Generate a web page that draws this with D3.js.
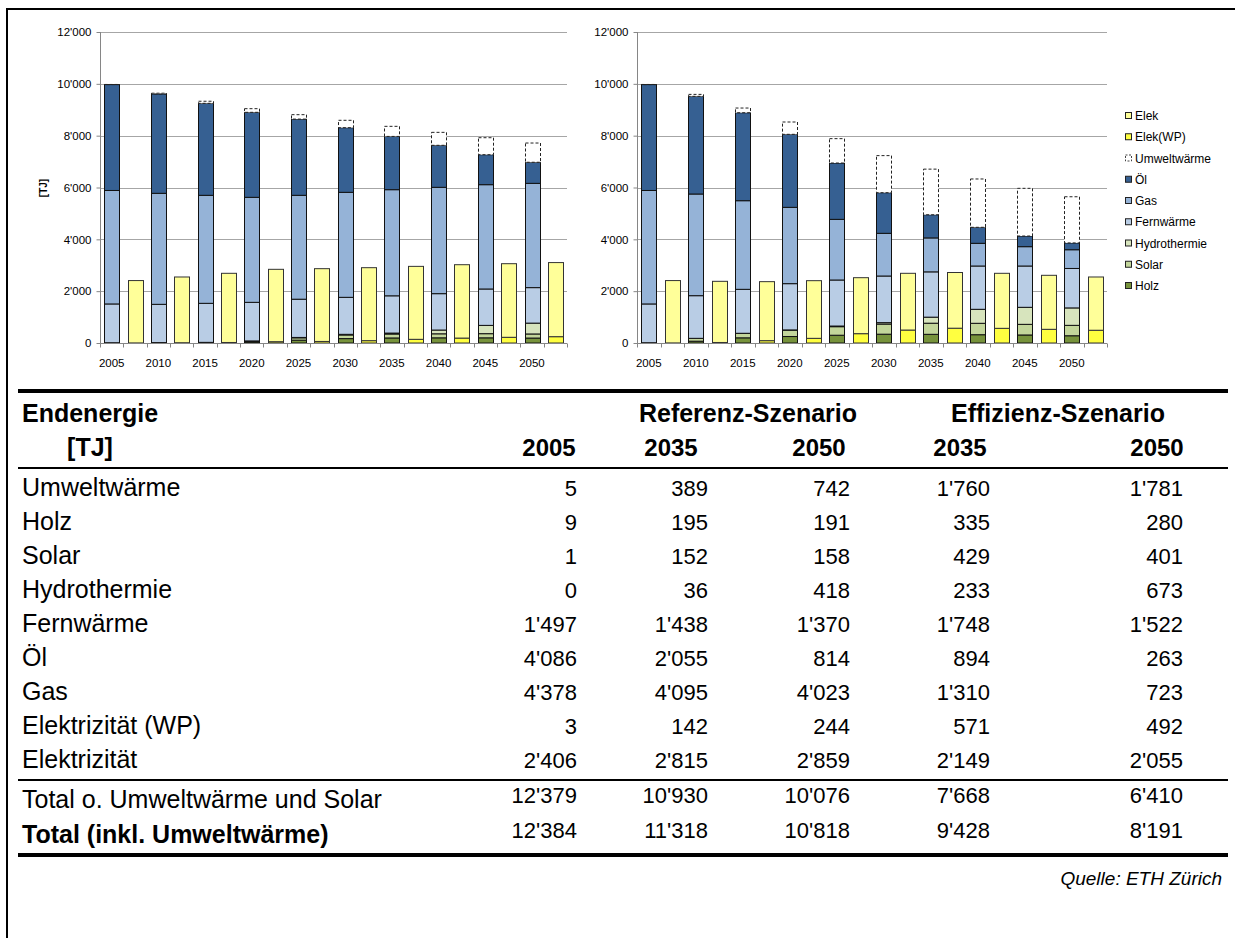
<!DOCTYPE html>
<html>
<head>
<meta charset="utf-8">
<script src="https://cdn.jsdelivr.net/npm/d3@7"></script>
<style>
  body { margin: 0; background: #fff; }
  text { font-family: "Liberation Sans", Arial, sans-serif; }
</style>
</head>
<body>
<svg id="chart"></svg>
<script>
var WIDTH = 1235;
var HEIGHT = 938;

// years on the x axis (each year has a heat bar and an electricity bar)
var years = [2005, 2010, 2015, 2020, 2025, 2030, 2035, 2040, 2045, 2050];

// stacking order bottom -> top
var keys = ['Holz', 'Solar', 'Hydrothermie', 'Fernwärme', 'Gas', 'Öl', 'Umweltwärme', 'Elek(WP)', 'Elek'];
var heatKeys = ['Holz', 'Solar', 'Hydrothermie', 'Fernwärme', 'Gas', 'Öl', 'Umweltwärme'];
var elecKeys = ['Elek(WP)', 'Elek'];
var legendKeys = ['Elek', 'Elek(WP)', 'Umweltwärme', 'Öl', 'Gas', 'Fernwärme', 'Hydrothermie', 'Solar', 'Holz'];

// Referenz-Szenario [TJ]
var refHolz  = [9, 10, 15, 45, 110, 170, 195, 200, 200, 191];
var refSolar = [1, 5, 10, 30, 90, 140, 152, 155, 160, 158];
var refHydro = [0, 0, 0, 5, 15, 25, 36, 145, 320, 418];
var refFern  = [1497, 1477, 1506, 1489, 1475, 1427, 1438, 1404, 1404, 1370];
var refGas   = [4378, 4283, 4167, 4052, 4008, 4052, 4095, 4103, 4025, 4023];
var refOel   = [4086, 3833, 3550, 3280, 2942, 2494, 2055, 1621, 1157, 814];
var refUmw   = [5, 30, 80, 140, 170, 285, 389, 500, 655, 742];
var refWP    = [3, 10, 20, 50, 60, 90, 142, 190, 220, 244];
var refElek  = [2406, 2537, 2669, 2793, 2808, 2816, 2815, 2831, 2840, 2859];

// Effizienz-Szenario [TJ]
var effHolz  = [9, 70, 200, 250, 300, 340, 335, 320, 310, 280];
var effSolar = [1, 110, 170, 245, 330, 390, 429, 440, 410, 401];
var effHydro = [0, 0, 5, 10, 25, 55, 233, 540, 657, 673];
var effFern  = [1497, 1646, 1696, 1785, 1776, 1800, 1748, 1671, 1594, 1522];
var effGas   = [4378, 3923, 3420, 2944, 2340, 1647, 1310, 875, 746, 723];
var effOel   = [4086, 3769, 3395, 2818, 2174, 1568, 894, 618, 411, 263];
var effUmw   = [5, 75, 180, 475, 940, 1430, 1760, 1865, 1840, 1781];
var effWP    = [3, 20, 90, 180, 360, 500, 571, 566, 528, 492];
var effElek  = [2406, 2360, 2277, 2225, 2160, 2189, 2149, 2123, 2084, 2055];

var yTicks = [0, 2000, 4000, 6000, 8000, 10000, 12000];

// table
var tableRows = ['Umweltwärme', 'Holz', 'Solar', 'Hydrothermie', 'Fernwärme', 'Öl', 'Gas', 'Elektrizität (WP)', 'Elektrizität'];
var tab2005    = [5, 9, 1, 0, 1497, 4086, 4378, 3, 2406];
var tabRef2035 = [389, 195, 152, 36, 1438, 2055, 4095, 142, 2815];
var tabRef2050 = [742, 191, 158, 418, 1370, 814, 4023, 244, 2859];
var tabEff2035 = [1760, 335, 429, 233, 1748, 894, 1310, 571, 2149];
var tabEff2050 = [1781, 280, 401, 673, 1522, 263, 723, 492, 2055];
var totalLabels = ['Total o. Umweltwärme und Solar', 'Total (inkl. Umweltwärme)'];
var totals = [[12379, 10930, 10076, 7668, 6410], [12384, 11318, 10818, 9428, 8191]];
var tableYears = ['2005', '2035', '2050', '2035', '2050'];

var colors = {
  'Holz': '#77933c',
  'Solar': '#c3d69b',
  'Hydrothermie': '#d7e4bd',
  'Fernwärme': '#b9cde5',
  'Gas': '#95b3d7',
  'Öl': '#366092',
  'Umweltwärme': '#ffffff',
  'Elek(WP)': '#ffff40',
  'Elek': '#ffff99'
};

var svg = d3.select('#chart')
  .attr('width', WIDTH)
  .attr('height', HEIGHT);

svg.append('rect').attr('width', WIDTH).attr('height', HEIGHT).attr('fill', '#fff');

// outer frame (top + left)
svg.append('line').attr('x1', 7).attr('x2', WIDTH).attr('y1', 9).attr('y2', 9)
  .attr('stroke', '#000').attr('stroke-width', 2);
svg.append('line').attr('x1', 7).attr('x2', 7).attr('y1', 8).attr('y2', HEIGHT)
  .attr('stroke', '#000').attr('stroke-width', 2);

var fmt = function(v){
  return d3.format(',')(v).replace(/,/g, "'");
};

var yScale = d3.scaleLinear().domain([0, 12000]).range([343, 32]);

var buildRows = function(s){
  var rows = [];
  years.forEach(function(yr, i){
    var h = { cat: yr + 'h', year: yr, heat: true };
    var e = { cat: yr + 'e', year: yr, heat: false };
    var vals = {
      'Holz': s.holz[i], 'Solar': s.solar[i], 'Hydrothermie': s.hydro[i],
      'Fernwärme': s.fern[i], 'Gas': s.gas[i], 'Öl': s.oel[i], 'Umweltwärme': s.umw[i],
      'Elek(WP)': s.wp[i], 'Elek': s.elek[i]
    };
    keys.forEach(function(k){
      h[k] = heatKeys.indexOf(k) >= 0 ? vals[k] : 0;
      e[k] = elecKeys.indexOf(k) >= 0 ? vals[k] : 0;
    });
    rows.push(h);
    rows.push(e);
  });
  return rows;
};

var drawChart = function(x0, x1, rows, yLabel){
  var g = svg.append('g');
  var xScale = d3.scaleBand()
    .domain(rows.map(function(d){ return d.cat; }))
    .range([x0, x1])
    .paddingInner(0.36)
    .paddingOuter(0.18);
  var step = xScale.step();

  // gridlines
  g.selectAll('.grid').data(yTicks.slice(1)).enter().append('line')
    .attr('x1', x0).attr('x2', x1)
    .attr('y1', function(d){ return Math.round(yScale(d)) + 0.5; })
    .attr('y2', function(d){ return Math.round(yScale(d)) + 0.5; })
    .attr('stroke', '#a6a6a6').attr('stroke-width', 1);

  // y axis
  var leftAxis = d3.axisLeft(yScale).tickValues(yTicks).tickSize(4).tickPadding(5)
    .tickFormat(fmt);
  var ya = g.append('g').attr('transform', 'translate(' + (x0 + 0.5) + ',0)').call(leftAxis);
  ya.select('.domain').attr('stroke', '#868686').attr('d', 'M0,' + yScale(12000) + 'V' + yScale(0));
  ya.selectAll('.tick line').attr('stroke', '#868686');
  ya.selectAll('text').attr('font-size', 11.5).attr('fill', '#000')
    .style('font-family', '"Liberation Sans", Arial, sans-serif');

  // bars
  var stack = d3.stack().keys(keys);
  var layers = stack(rows);
  layers.forEach(function(layer){
    var k = layer.key;
    g.selectAll(null).data(layer.filter(function(d){ return d[1] - d[0] > 0; }))
      .enter().append('rect')
      .attr('x', function(d){ return Math.round(xScale(d.data.cat)) + 0.5; })
      .attr('width', Math.round(xScale.bandwidth()))
      .attr('y', function(d){ return yScale(d[1]); })
      .attr('height', function(d){ return yScale(d[0]) - yScale(d[1]); })
      .attr('fill', colors[k])
      .attr('stroke', k === 'Umweltwärme' ? '#222' : (k === 'Elek' || k === 'Elek(WP)' ? '#333' : '#111'))
      .attr('stroke-width', 1)
      .attr('stroke-dasharray', k === 'Umweltwärme' ? '3,2' : null);
  });

  // x axis
  var xa = g.append('g').attr('transform', 'translate(0,' + (yScale(0) + 0.5) + ')');
  xa.append('line').attr('x1', x0).attr('x2', x1).attr('stroke', '#868686');
  xa.selectAll('.xt').data(d3.range(rows.length + 1)).enter().append('line')
    .attr('x1', function(i){ return Math.round(x0 + i * step) + 0.5; })
    .attr('x2', function(i){ return Math.round(x0 + i * step) + 0.5; })
    .attr('y1', 0).attr('y2', 4)
    .attr('stroke', '#868686');
  xa.selectAll('.xl').data(rows.filter(function(d){ return d.heat; })).enter().append('text')
    .attr('x', function(d){ return xScale(d.cat) + xScale.bandwidth() / 2; })
    .attr('y', 23)
    .attr('text-anchor', 'middle')
    .attr('font-size', 11.5)
    .text(function(d){ return d.year; });

  if (yLabel) {
    g.append('text')
      .attr('transform', 'translate(47,188) rotate(-90)')
      .attr('text-anchor', 'middle')
      .attr('font-size', 10)
      .attr('font-weight', 'bold')
      .text(yLabel);
  }
};

var refRows = buildRows({ holz: refHolz, solar: refSolar, hydro: refHydro, fern: refFern, gas: refGas,
  oel: refOel, umw: refUmw, wp: refWP, elek: refElek });
var effRows = buildRows({ holz: effHolz, solar: effSolar, hydro: effHydro, fern: effFern, gas: effGas,
  oel: effOel, umw: effUmw, wp: effWP, elek: effElek });

drawChart(100, 567, refRows, '[TJ]');
drawChart(637, 1107, effRows, null);

// legend
var lg = svg.append('g').attr('transform', 'translate(1125,116)');
var li = lg.selectAll('g').data(legendKeys).enter().append('g')
  .attr('transform', function(d, i){ return 'translate(0,' + (i * 21.25) + ')'; });
li.append('rect')
  .attr('x', 0.5).attr('y', -3.5).attr('width', 6).attr('height', 6)
  .attr('fill', function(d){ return colors[d]; })
  .attr('stroke', function(d){ return d === 'Umweltwärme' ? '#444' : '#222'; })
  .attr('stroke-dasharray', function(d){ return d === 'Umweltwärme' ? '2,1.5' : null; });
li.append('text')
  .attr('x', 10).attr('y', 4)
  .attr('font-size', 12)
  .text(function(d){ return d; });

// table
var tbl = svg.append('g');
var FS = 25;
var NFS = 22;
var valRight = [577, 708, 850, 990, 1183];
var yearCenter = [549, 671, 819, 960, 1157];

tbl.append('rect').attr('x', 18).attr('y', 389).attr('width', 1210).attr('height', 4).attr('fill', '#000');
tbl.append('text').attr('x', 22).attr('y', 422).attr('font-size', FS).attr('font-weight', 'bold').text('Endenergie');
tbl.append('text').attr('x', 748).attr('y', 422).attr('font-size', FS).attr('font-weight', 'bold')
  .attr('text-anchor', 'middle').text('Referenz-Szenario');
tbl.append('text').attr('x', 1058).attr('y', 422).attr('font-size', FS).attr('font-weight', 'bold')
  .attr('text-anchor', 'middle').text('Effizienz-Szenario');
tbl.append('text').attr('x', 90).attr('y', 456).attr('font-size', FS).attr('font-weight', 'bold')
  .attr('text-anchor', 'middle').text('[TJ]');
tbl.selectAll('.hy').data(tableYears).enter().append('text')
  .attr('x', function(d, i){ return yearCenter[i]; })
  .attr('y', 456).attr('font-size', FS - 1).attr('font-weight', 'bold')
  .attr('text-anchor', 'middle').text(function(d){ return d; });
tbl.append('rect').attr('x', 18).attr('y', 467).attr('width', 1210).attr('height', 2).attr('fill', '#000');

var cols = [tab2005, tabRef2035, tabRef2050, tabEff2035, tabEff2050];
tableRows.forEach(function(lbl, r){
  var y = 496 + r * 34;
  tbl.append('text').attr('x', 22).attr('y', y).attr('font-size', FS).text(lbl);
  cols.forEach(function(col, c){
    tbl.append('text').attr('x', valRight[c]).attr('y', y).attr('font-size', NFS)
      .attr('text-anchor', 'end').text(fmt(col[r]));
  });
});

tbl.append('rect').attr('x', 18).attr('y', 779).attr('width', 1210).attr('height', 2).attr('fill', '#000');
totalLabels.forEach(function(lbl, r){
  var y = 808 + r * 35;
  tbl.append('text').attr('x', 22).attr('y', y).attr('font-size', FS)
    .attr('font-weight', r === 1 ? 'bold' : 'normal').text(lbl);
  totals[r].forEach(function(v, c){
    tbl.append('text').attr('x', valRight[c]).attr('y', y - 5).attr('font-size', NFS)
      .attr('text-anchor', 'end').text(fmt(v));
  });
});
tbl.append('rect').attr('x', 18).attr('y', 853).attr('width', 1210).attr('height', 4).attr('fill', '#000');
tbl.append('text').attr('x', 1222).attr('y', 885).attr('font-size', 19).attr('font-style', 'italic')
  .attr('text-anchor', 'end').text('Quelle: ETH Zürich');
</script>
</body>
</html>
